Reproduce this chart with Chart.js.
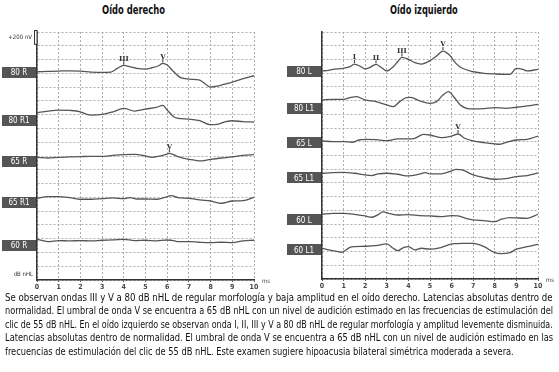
<!DOCTYPE html>
<html>
<head>
<meta charset="utf-8">
<script src="https://cdn.jsdelivr.net/npm/chart.js@4.4.0/dist/chart.umd.min.js"></script>
<style>
  body { margin: 0; background: #fff; width: 559px; height: 372px; position: relative; overflow: hidden;
         font-family: "Liberation Sans Narrow", "DejaVu Sans Condensed", "Liberation Sans", sans-serif; color: #111; }
  .title { position: absolute; top: 3px; white-space: nowrap; font-weight: bold; font-size: 12px; transform-origin: 0 0; }
  canvas { position: absolute; top: 20px; }
  #caption { position: absolute; left: 5px; top: 291px; width: 548px; font-size: 11px; line-height: 13.4px; }
  #caption span { display: block; white-space: nowrap; transform-origin: 0 0; }
</style>
</head>
<body>
<div class="title" id="t1">Oído derecho</div>
<div class="title" id="t2">Oído izquierdo</div>
<canvas id="leftChart" width="280" height="280" style="left:0"></canvas>
<canvas id="rightChart" width="279" height="280" style="left:280px"></canvas>
<div id="caption">
  <span>Se observan ondas III y V a 80 dB nHL de regular morfología y baja amplitud en el oído derecho. Latencias absolutas dentro de</span>
  <span>normalidad. El umbral de onda V se encuentra a 65 dB nHL con un nivel de audición estimado en las frecuencias de estimulación del</span>
  <span>clic de 55 dB nHL. En el oído izquierdo se observan onda I, II, III y V a 80 dB nHL de regular morfología y amplitud levemente disminuida.</span>
  <span>Latencias absolutas dentro de normalidad. El umbral de onda V se encuentra a 65 dB nHL con un nivel de audición estimado en las</span>
  <span>frecuencias de estimulación del clic de 55 dB nHL. Este examen sugiere hipoacusia bilateral simétrica moderada a severa.</span>
</div>
<script>
// ABR waveforms, [latency ms, amplitude nV]

// right ear
const r80 = [[0,0],[0.5,5],[1,10],[1.5,14],[2,10],[2.5,-5],[3,-10],[3.4,-5],[3.7,48],[4,92],[4.3,72],[4.6,48],[5,39],[5.3,58],[5.6,87],[5.8,121],[6,97],[6.3,0],[6.6,-82],[7,-106],[7.5,-121],[8,-222],[8.3,-210],[8.6,-184],[9,-150],[9.5,-101],[10,-58]];
const r80b = [[0,0],[0.5,24],[1,39],[1.5,34],[2,14],[2.3,-24],[2.5,-34],[3,-24],[3.5,14],[4,63],[4.5,24],[5,53],[5.5,77],[5.8,106],[6,39],[6.3,-58],[6.5,-82],[7,-92],[7.5,-116],[8,-174],[8.3,-169],[8.7,-130],[9,-116],[9.5,-130],[10,-135]];
const r65 = [[0,0],[0.5,-10],[1,0],[1.5,5],[2,10],[2.5,14],[3,14],[3.5,29],[4,39],[4.5,43],[5,19],[5.3,0],[5.6,14],[6,48],[6.1,58],[6.5,10],[7,-29],[7.3,-43],[7.5,-53],[8,-29],[8.5,-10],[9,5],[9.5,29],[10,39]];
const r65b = [[0,0],[0.5,24],[1,24],[1.5,10],[2,-14],[2.5,-14],[3,-5],[3.5,5],[4,-5],[4.3,10],[4.6,-10],[5,-10],[5.5,-14],[5.9,14],[6.2,39],[6.5,10],[7,0],[7.5,-24],[8,-39],[8.5,-72],[9,-39],[9.5,-34],[10,14]];
const r60 = [[0,0],[0.5,-34],[1,-19],[1.5,-24],[2,-19],[2.5,-24],[3,-14],[3.5,-10],[4,0],[4.5,-19],[5,-14],[5.5,-24],[6,-10],[6.3,-19],[6.5,-34],[7,-34],[7.5,-43],[8,-48],[8.5,-43],[9,-48],[9.5,-24],[10,-14]];

// left ear
const l80 = [[0,0],[0.3,10],[0.5,24],[1,39],[1.3,63],[1.5,101],[1.8,63],[2,29],[2.2,48],[2.5,97],[2.8,39],[3,0],[3.3,63],[3.5,135],[3.7,198],[4,169],[4.3,121],[4.6,101],[5,150],[5.3,217],[5.6,290],[5.9,232],[6.2,111],[6.5,39],[7,-10],[7.5,-34],[8,-43],[8.7,-50],[9,39],[9.3,24],[9.5,0],[10,24]];
const l80b = [[0,0],[0.5,10],[1,10],[1.3,34],[1.6,48],[2,0],[2.5,-24],[3,-72],[3.3,-97],[3.6,-24],[3.9,34],[4.1,39],[4.5,-10],[5,-48],[5.3,-24],[5.6,72],[5.85,121],[6.1,48],[6.4,-72],[6.7,-121],[7,-130],[7.5,-126],[8,-111],[8.5,-121],[9,-106],[9.5,-87],[10,-63]];
const l65 = [[0,0],[0.5,-10],[1,-10],[1.4,-19],[1.7,14],[2,24],[2.5,19],[3,5],[3.5,29],[4,29],[4.3,39],[4.7,97],[5,87],[5.5,48],[6,72],[6.3,101],[6.6,39],[7,0],[7.5,-24],[8,-43],[8.2,-48],[8.5,-24],[9,14],[9.5,24],[10,72]];
const l65b = [[0,0],[0.5,10],[1,14],[1.5,0],[2,-24],[2.3,-34],[2.6,-10],[3,0],[3.5,-14],[4,-39],[4.5,-14],[4.8,10],[5,-10],[5.5,-10],[6,34],[6.2,58],[6.5,48],[7,-24],[7.5,-63],[8,-87],[8.5,-77],[9,-48],[9.5,-34],[10,5]];
const l60 = [[0,0],[0.5,14],[1,14],[1.5,0],[2,-24],[2.3,-43],[2.6,-5],[2.8,34],[3.2,5],[3.5,-10],[4,-5],[4.5,-19],[5,-24],[5.5,-34],[6,-19],[6.3,-24],[6.7,-63],[7,-82],[7.5,-92],[8,-106],[8.3,-72],[8.7,-48],[9,-53],[9.5,-58],[10,0]];
const l60b = [[0,0],[0.5,-34],[0.9,-58],[1,-48],[1.3,14],[1.5,24],[2,29],[2.5,39],[3,63],[3.3,0],[3.5,-34],[3.8,14],[4,24],[4.3,-24],[4.6,0],[5,-14],[5.5,10],[6,63],[6.5,72],[7,72],[7.5,24],[8,-63],[8.3,-77],[8.7,-63],[9,-14],[9.5,24],[10,58]];

const rightNames = ['80 R', '80 R1', '65 R', '65 R1', '60 R'];
const rightBase = [3023, 2428, 1781, 1186, 591];     // nV offset of each trace
const rightTags = [3016, 2320, 1726, 1131, 500];     // nV level of each name box
const rightWaves = [[0, 4, 'III'], [0, 5.8, 'V'], [2, 6.1, 'V']];

const leftNames = ['80 L', '80 L1', '65 L', '65 L1', '60 L', '60 L1'];
const leftBase = [3032, 2609, 2012, 1541, 943, 448];
const leftTags = [3022, 2483, 1983, 1473, 860, 423];
const leftWaves = [[0, 1.5, 'I'], [0, 2.5, 'II'], [0, 3.7, 'III'], [0, 5.6, 'V'], [2, 6.3, 'V']];

const FONT = '"Liberation Sans Narrow", "DejaVu Sans Condensed", "Liberation Sans", sans-serif';
const INK = '#555';
const GRID = '#ababab';

// name boxes, wave marks and the little axis notes
const abrDecor = {
  id: 'abrDecor',
  afterDatasetsDraw(chart, args, opts) {
    const { ctx, chartArea: a, scales: { y } } = chart;
    ctx.save();
    ctx.textAlign = 'center';
    ctx.textBaseline = 'middle';
    opts.names.forEach((name, i) => {
      const cy = y.getPixelForValue(opts.tags[i]);
      ctx.fillStyle = '#555';
      ctx.fillRect(a.left - 35, Math.round(cy - 5.5), 34, 11);
      ctx.fillStyle = '#fff';
      ctx.font = '8px ' + FONT;
      ctx.fillText(name, a.left - 18, cy + 0.5);
    });
    // wave labels over the peaks
    ctx.strokeStyle = '#333';
    ctx.fillStyle = '#333';
    ctx.lineWidth = 1;
    ctx.textBaseline = 'bottom';
    ctx.font = 'bold 7px "DejaVu Serif", serif';
    opts.waves.forEach(([t, ms, txt]) => {
      const meta = chart.getDatasetMeta(t);
      const idx = chart.data.datasets[t].data.findIndex(p => p.x === ms);
      const pt = meta.data[idx];
      ctx.beginPath();
      ctx.moveTo(pt.x, pt.y - 1);
      ctx.lineTo(pt.x, pt.y - 4);
      ctx.stroke();
      ctx.fillText(txt, pt.x, pt.y - 3);
    });
    // ms at the end of the time axis
    ctx.font = '6px ' + FONT;
    ctx.fillStyle = '#444';
    ctx.textAlign = 'left';
    ctx.textBaseline = 'middle';
    ctx.fillText('ms', a.right + 8, a.bottom + 1);
    if (opts.notes) {
      // +200 nV calibration bar
      const top = y.getPixelForValue(y.max) - 2;
      const h = y.getPixelForValue(y.max - 200) - y.getPixelForValue(y.max);
      ctx.fillStyle = '#fff';
      ctx.strokeStyle = '#333';
      ctx.fillRect(a.left - 3, top, 3, h);
      ctx.strokeRect(a.left - 2.5, top + 0.5, 2.5, h);
      ctx.fillStyle = '#333';
      ctx.textAlign = 'right';
      ctx.fillText('+200 nV', a.left - 5, top + 7);
      ctx.fillText('dB nHL', a.left - 4, a.bottom - 6);
    }
    ctx.restore();
  }
};

function makeChart(id, traces, base, names, tags, waves, box) {
  const datasets = traces.map((tr, i) => ({
    data: tr.map(p => ({ x: p[0], y: base[i] + p[1] })),
    borderColor: INK,
    borderWidth: 1.3,
    pointRadius: 0,
    cubicInterpolationMode: 'monotone',
    fill: false
  }));
  const borderOpts = { display: true, color: '#333', width: 1.5, dash: [2, 2] };
  return new Chart(document.getElementById(id), {
    type: 'line',
    data: { datasets },
    options: {
      responsive: false,
      animation: false,
      layout: { padding: { top: 12, right: box.right, left: 0, bottom: 0 } },
      plugins: {
        legend: { display: false },
        tooltip: { enabled: false },
        abrDecor: { names, tags, waves, notes: box.notes }
      },
      scales: {
        x: {
          type: 'linear', min: 0, max: 10,
          ticks: { color: '#444', padding: 1, stepSize: 1, font: { size: 7, weight: 'bold', family: FONT } },
          grid: { display: true, drawOnChartArea: true, color: GRID, lineWidth: 1, tickColor: '#555', tickLength: 2 },
          border: borderOpts,
          afterFit: s => { s.height = box.xh; }
        },
        y: {
          min: 0, max: 3600,
          ticks: { display: false, stepSize: 200 },
          grid: { display: true, drawOnChartArea: true, color: GRID, lineWidth: 1, drawTicks: false },
          border: borderOpts,
          afterFit: s => { s.width = box.left; }
        }
      }
    },
    plugins: [abrDecor]
  });
}

makeChart('leftChart', [r80, r80b, r65, r65b, r60], rightBase, rightNames, rightTags, rightWaves,
  { left: 37, right: 26, xh: 20, notes: true });
makeChart('rightChart', [l80, l80b, l65, l65b, l60, l60b], leftBase, leftNames, leftTags, leftWaves,
  { left: 42, right: 21, xh: 21, notes: false });

// narrow print face: squeeze titles and caption lines to the widths in the picture
function fit(el, width, centre) {
  const k = width / el.scrollWidth;
  el.style.transform = 'scaleX(' + k + ')';
  if (centre !== undefined) el.style.left = (centre - width / 2) + 'px';
  return k;
}
fit(document.getElementById('t1'), 63, 133.5);
fit(document.getElementById('t2'), 68, 424);

const lines = document.querySelectorAll('#caption span');
const scales = [];
lines.forEach((el, i) => {
  if (i < lines.length - 1) scales.push(fit(el, 548));
});
const avg = scales.reduce((s, v) => s + v, 0) / scales.length;
lines[lines.length - 1].style.transform = 'scaleX(' + avg + ')';
</script>
</body>
</html>
